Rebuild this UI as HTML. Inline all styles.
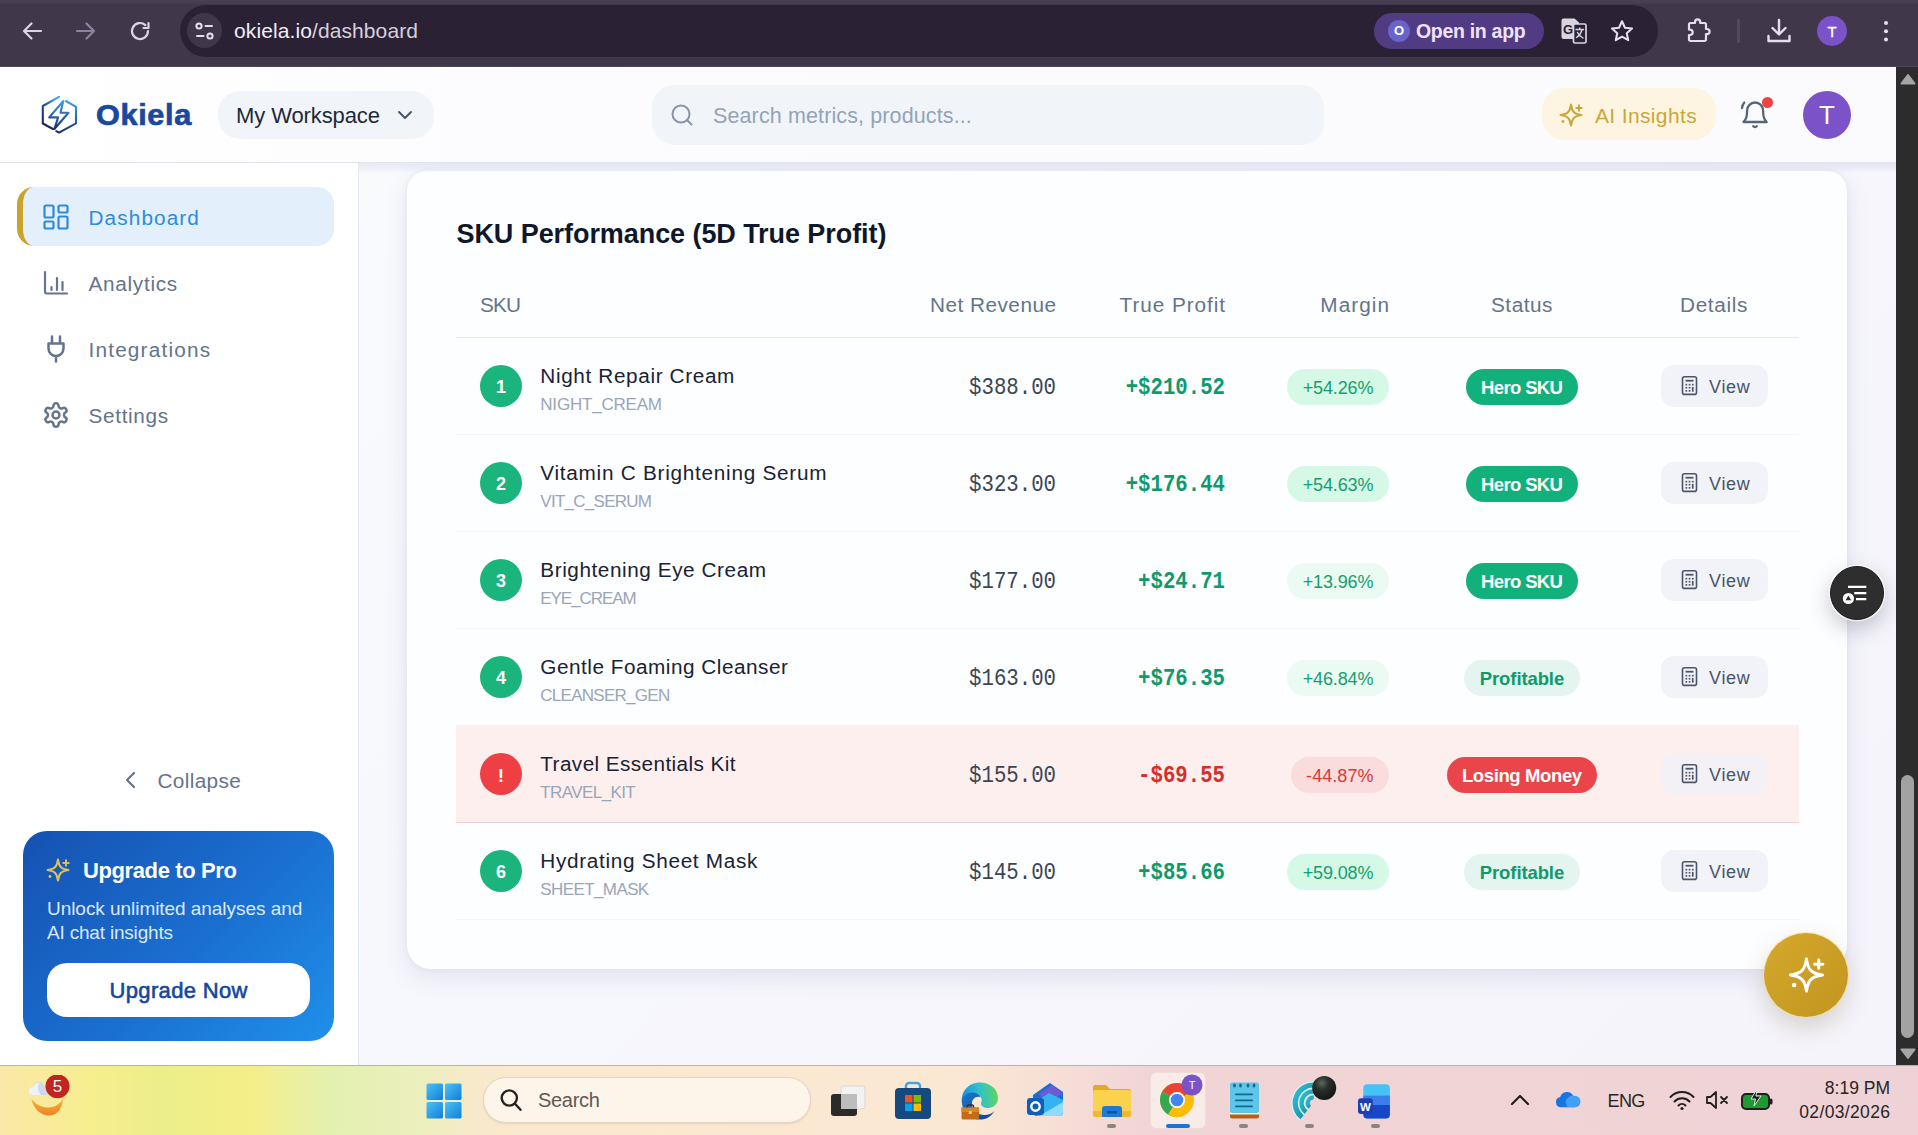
<!DOCTYPE html>
<html>
<head>
<meta charset="utf-8">
<title>Okiela Dashboard</title>
<style>
*{box-sizing:border-box;margin:0;padding:0}
html,body{width:1918px;height:1135px;overflow:hidden;background:#fff;font-family:"Liberation Sans",sans-serif;}
.abs{position:absolute}
#root{position:relative;width:1918px;height:1135px;overflow:hidden;background:#f6f7fc}
/* browser chrome */
#chrome{position:absolute;left:0;top:0;width:1918px;height:67px;background:#41374b;border-bottom:1.500px solid #4c4654}
#urlbar{position:absolute;left:180px;top:5px;width:1478px;height:52px;border-radius:26px;background:#2a2234}
#siteinfo{position:absolute;left:187px;top:13px;width:35px;height:35px;border-radius:50%;background:#40364a}
#urltext{position:absolute;left:234px;top:18px;font-size:21px;line-height:26px;color:#f1edf6;white-space:nowrap;letter-spacing:0.1px}
#urltext span{color:#d6d0de}
#openapp{position:absolute;left:1374px;top:13px;width:170px;height:36px;border-radius:18px;background:#513b82}
#openapp .o{position:absolute;left:14px;top:7px;width:22px;height:22px;border-radius:50%;background:#6a63c9;color:#fff;font-size:13px;font-weight:bold;text-align:center;line-height:22px}
#openapp .t{position:absolute;left:42px;top:5px;font-size:19.500px;line-height:26px;color:#f0e2f9;font-weight:bold;white-space:nowrap;letter-spacing:-0.3px}
#cprofile{position:absolute;left:1817px;top:16px;width:30px;height:30px;border-radius:50%;background:#7b52c7;color:#fff;font-size:15px;text-align:center;line-height:31px;-webkit-text-stroke:0.4px #fff}
/* app header */
#hdr{position:absolute;left:0;top:67px;width:1896px;height:96px;background:linear-gradient(90deg,#ffffff 0%,#fcfcfe 30%,#fbfbfe 100%);border-bottom:1px solid #dfe4ef}
#brand{position:absolute;left:96px;top:97px;font-size:29.500px;line-height:36px;font-weight:bold;color:#1848a0;letter-spacing:0.6px;-webkit-text-stroke:0.7px #1848a0;transform-origin:0 50%;transform:scaleX(1.04)}
#ws{position:absolute;left:218px;top:91px;width:216px;height:48px;border-radius:22px;background:#f1f5f9}
#ws .t{position:absolute;left:18px;top:11px;font-size:22px;line-height:28px;color:#1e293b;white-space:nowrap}
#search{position:absolute;left:652px;top:85px;width:672px;height:60px;border-radius:22px;background:#f1f5f9}
#search .t{position:absolute;left:61px;top:17px;font-size:21.500px;line-height:28px;color:#94a3b8;white-space:nowrap}
#ai{position:absolute;left:1542px;top:88px;width:174px;height:52px;border-radius:22px;background:#fdf5e1}
#ai .t{position:absolute;left:53px;top:14px;font-size:21px;line-height:28px;color:#c8a83a;white-space:nowrap;letter-spacing:0.45px}
#avatar{position:absolute;left:1803px;top:91px;width:48px;height:48px;border-radius:50%;background:#7b52c7;color:#fff;font-size:26px;text-align:center;line-height:48px}
/* scrollbar */
#sb{position:absolute;left:1896px;top:67px;width:22px;height:998px;background:#2c2c2c}
#sb .thumb{position:absolute;left:5px;top:708px;width:13px;height:262.500px;border-radius:6.500px;background:#a2a2a2}
/* sidebar */
#side{position:absolute;left:0;top:163px;width:359px;height:902px;background:#fff;border-right:1px solid #e2e8f0}
.nav{position:absolute;left:88.500px;font-size:20.750px;line-height:28px;color:#64748b;white-space:nowrap}
#active{position:absolute;left:17px;top:187px;width:317px;height:59px;border-radius:17px;background:#e3f0fb;border-left:6px solid #c9a42c}
#upg{position:absolute;left:23px;top:831px;width:311px;height:210px;border-radius:24px;background:linear-gradient(135deg,#1552b2 0%,#1a6fd0 55%,#2090ea 100%)}
#upg .h{position:absolute;left:60px;top:26px;font-size:22px;line-height:28px;font-weight:bold;color:#fff;white-space:nowrap}
#upg .d{position:absolute;left:24px;top:66px;font-size:19px;line-height:24px;color:#dce9fb;white-space:nowrap}
#upg .b{position:absolute;left:24px;top:132px;width:263px;height:54px;border-radius:20px;background:#fff;color:#15489c;font-size:22px;line-height:56px;text-align:center;font-weight:normal;-webkit-text-stroke:0.6px #15489c}
/* main card */
#card{position:absolute;left:407px;top:171px;width:1440px;height:798px;border-radius:20px 20px 24px 24px;background:#fdfeff;box-shadow:0 9px 24px rgba(80,90,150,0.12),0 0 6px rgba(80,90,160,0.07)}
#title{position:absolute;left:456.500px;top:215.500px;font-size:27px;line-height:36px;font-weight:bold;color:#0f172a;white-space:nowrap}
.th{position:absolute;top:291px;font-size:20.750px;line-height:28px;color:#64748b;white-space:nowrap}
.row{position:absolute;left:456px;width:1343px;height:97px;border-bottom:1px solid #f1f5f9}
.row.bad{background:#fdefee;border-bottom:1px solid #f3cfcf}
.num{position:absolute;left:24px;top:27px;width:42px;height:42px;border-radius:50%;background:#1ab47c;color:#fff;font-weight:bold;font-size:18px;line-height:44px;text-align:center;overflow:hidden}
.bad .num{background:#ee4044;line-height:46px;font-size:19px}
.nm{position:absolute;left:84.300px;top:24px;font-size:20.750px;line-height:28px;color:#1a2233;white-space:nowrap}
.cd{position:absolute;left:84.300px;top:55px;font-size:17px;line-height:24px;color:#9aa5b8;white-space:nowrap}
.rev{position:absolute;right:743px;top:36.500px;font-family:"Liberation Mono",monospace;font-size:20.700px;line-height:28px;color:#3a4656;white-space:nowrap;transform:scaleY(1.13);transform-origin:50% 62%}
.pro{position:absolute;right:574px;top:36.500px;font-family:"Liberation Mono",monospace;font-size:20.700px;line-height:28px;color:#0f9a6c;font-weight:bold;white-space:nowrap;transform:scaleY(1.13);transform-origin:50% 62%}
.bad .pro{color:#d92c2c}
.mg{position:absolute;right:410px;top:31px;height:36px;border-radius:18px;background:#d6f8e6;color:#14a06e;font-size:18px;line-height:38px;padding:0 15.500px;white-space:nowrap;overflow:hidden}
.mg.l{background:#ebfbf3}
.bad .mg{background:#fbdcdc;color:#d63a3a}
.st{position:absolute;top:31px;height:36px;border-radius:18px;font-size:18.500px;line-height:38px;overflow:hidden;font-weight:bold;text-align:center;white-space:nowrap}
.st.hero{left:1010px;width:112px;background:#12b07a;color:#fff}
.st.prof{left:1008px;width:116px;background:#e3f5ee;color:#0f9a6c}
.st.lose{left:991px;width:150px;background:#ea454a;color:#fff}
.vw{position:absolute;left:1205px;top:27px;width:107px;height:42px;border-radius:13px;background:#f1f3f9}
.vw .t{position:absolute;left:48px;top:9px;font-size:18px;line-height:26px;color:#475569}
.bad .vw{background:#f4f1f6}
/* taskbar */
#task{position:absolute;left:0;top:1065px;width:1918px;height:70px;border-top:1px solid #b9b3a6;background:linear-gradient(90deg,#f9e8a8 0px,#f6ee8c 100px,#ecee8a 160px,#f5ee88 250px,#e3f0b0 330px,#ecefbe 420px,#f8e9cc 480px,#fbe8d0 700px,#fbe8d4 960px,#f5dcd6 1080px,#f1d5d6 1150px,#efd2d5 1918px)}
.f{display:inline-block;white-space:nowrap;letter-spacing:0}
</style>
</head>
<body>
<div id="root">

<!-- MAIN -->
<div id="mainbg" class="abs" style="left:359px;top:163px;width:1537px;height:902px;background:linear-gradient(135deg,#f8fafc 0%,#f6f6fc 60%,#f5f4fb 100%)"></div>
<div class="abs" style="left:359px;top:163px;width:1537px;height:10px;background:linear-gradient(180deg,rgba(90,100,170,0.11),rgba(90,100,170,0.06) 60%,rgba(90,100,170,0))"></div>
<div id="card"></div>
<div id="title"><span class="f" style="letter-spacing:-0.07px;margin-right:0.07px">SKU Performance (5D True Profit)</span></div>

<!-- TABLE -->
<div id="table">
<div class="th" style="left:480px"><span class="f" style="letter-spacing:-0.84px;margin-right:0.84px">SKU</span></div>
<div class="th" style="right:862px"><span class="f" style="letter-spacing:0.49px;margin-right:-0.49px">Net Revenue</span></div>
<div class="th" style="right:693px"><span class="f" style="letter-spacing:0.93px;margin-right:-0.93px">True Profit</span></div>
<div class="th" style="right:529px"><span class="f" style="letter-spacing:1.05px;margin-right:-1.05px">Margin</span></div>
<div class="th" style="left:1491px"><span class="f" style="letter-spacing:0.51px;margin-right:-0.51px">Status</span></div>
<div class="th" style="left:1680px"><span class="f" style="letter-spacing:0.66px;margin-right:-0.66px">Details</span></div>
<div class="abs" style="left:456px;top:337px;width:1343px;height:1px;background:#e2e8f0"></div>
<div class="row" style="top:338px"><div class="num">1</div><div class="nm"><span class="f" style="letter-spacing:0.63px;margin-right:-0.63px">Night Repair Cream</span></div><div class="cd"><span class="f" style="letter-spacing:-0.21px;margin-right:0.21px">NIGHT_CREAM</span></div><div class="rev">$388.00</div><div class="pro">+$210.52</div><div class="mg"><span class="f" style="letter-spacing:-0.13px;margin-right:0.13px">+54.26%</span></div><div class="st hero"><span class="f" style="letter-spacing:-0.65px;margin-right:0.65px">Hero SKU</span></div><div class="vw"><svg class="abs" style="left:18px;top:10px" width="20" height="22" viewBox="0 0 20 22" fill="none" stroke="#4a5568" stroke-width="1.600" stroke-linejoin="round"><rect x="3.500" y="1.800" width="14" height="17.600" rx="2"/><rect x="6.500" y="4.800" width="8" height="1.800" fill="#4a5568" stroke="none"/><g fill="#4a5568" stroke="none"><rect x="6.500" y="8.800" width="1.700" height="1.700"/><rect x="9.700" y="8.800" width="1.700" height="1.700"/><rect x="12.900" y="8.800" width="1.700" height="1.700"/><rect x="6.500" y="11.900" width="1.700" height="1.700"/><rect x="9.700" y="11.900" width="1.700" height="1.700"/><rect x="12.900" y="11.900" width="1.700" height="4.800"/><rect x="6.500" y="15" width="1.700" height="1.700"/><rect x="9.700" y="15" width="1.700" height="1.700"/></g></svg><div class="t"><span class="f" style="letter-spacing:0.7px;margin-right:-0.7px">View</span></div></div></div>
<div class="row" style="top:435px"><div class="num">2</div><div class="nm"><span class="f" style="letter-spacing:0.73px;margin-right:-0.73px">Vitamin C Brightening Serum</span></div><div class="cd"><span class="f" style="letter-spacing:-0.73px;margin-right:0.73px">VIT_C_SERUM</span></div><div class="rev">$323.00</div><div class="pro">+$176.44</div><div class="mg"><span class="f" style="letter-spacing:-0.13px;margin-right:0.13px">+54.63%</span></div><div class="st hero"><span class="f" style="letter-spacing:-0.65px;margin-right:0.65px">Hero SKU</span></div><div class="vw"><svg class="abs" style="left:18px;top:10px" width="20" height="22" viewBox="0 0 20 22" fill="none" stroke="#4a5568" stroke-width="1.600" stroke-linejoin="round"><rect x="3.500" y="1.800" width="14" height="17.600" rx="2"/><rect x="6.500" y="4.800" width="8" height="1.800" fill="#4a5568" stroke="none"/><g fill="#4a5568" stroke="none"><rect x="6.500" y="8.800" width="1.700" height="1.700"/><rect x="9.700" y="8.800" width="1.700" height="1.700"/><rect x="12.900" y="8.800" width="1.700" height="1.700"/><rect x="6.500" y="11.900" width="1.700" height="1.700"/><rect x="9.700" y="11.900" width="1.700" height="1.700"/><rect x="12.900" y="11.900" width="1.700" height="4.800"/><rect x="6.500" y="15" width="1.700" height="1.700"/><rect x="9.700" y="15" width="1.700" height="1.700"/></g></svg><div class="t"><span class="f" style="letter-spacing:0.7px;margin-right:-0.7px">View</span></div></div></div>
<div class="row" style="top:532px"><div class="num">3</div><div class="nm"><span class="f" style="letter-spacing:0.56px;margin-right:-0.56px">Brightening Eye Cream</span></div><div class="cd"><span class="f" style="letter-spacing:-1.07px;margin-right:1.07px">EYE_CREAM</span></div><div class="rev">$177.00</div><div class="pro">+$24.71</div><div class="mg l"><span class="f" style="letter-spacing:-0.13px;margin-right:0.13px">+13.96%</span></div><div class="st hero"><span class="f" style="letter-spacing:-0.65px;margin-right:0.65px">Hero SKU</span></div><div class="vw"><svg class="abs" style="left:18px;top:10px" width="20" height="22" viewBox="0 0 20 22" fill="none" stroke="#4a5568" stroke-width="1.600" stroke-linejoin="round"><rect x="3.500" y="1.800" width="14" height="17.600" rx="2"/><rect x="6.500" y="4.800" width="8" height="1.800" fill="#4a5568" stroke="none"/><g fill="#4a5568" stroke="none"><rect x="6.500" y="8.800" width="1.700" height="1.700"/><rect x="9.700" y="8.800" width="1.700" height="1.700"/><rect x="12.900" y="8.800" width="1.700" height="1.700"/><rect x="6.500" y="11.900" width="1.700" height="1.700"/><rect x="9.700" y="11.900" width="1.700" height="1.700"/><rect x="12.900" y="11.900" width="1.700" height="4.800"/><rect x="6.500" y="15" width="1.700" height="1.700"/><rect x="9.700" y="15" width="1.700" height="1.700"/></g></svg><div class="t"><span class="f" style="letter-spacing:0.7px;margin-right:-0.7px">View</span></div></div></div>
<div class="row" style="top:629px"><div class="num">4</div><div class="nm"><span class="f" style="letter-spacing:0.51px;margin-right:-0.51px">Gentle Foaming Cleanser</span></div><div class="cd"><span class="f" style="letter-spacing:-0.73px;margin-right:0.73px">CLEANSER_GEN</span></div><div class="rev">$163.00</div><div class="pro">+$76.35</div><div class="mg l"><span class="f" style="letter-spacing:-0.13px;margin-right:0.13px">+46.84%</span></div><div class="st prof"><span class="f" style="letter-spacing:-0.1px;margin-right:0.1px">Profitable</span></div><div class="vw"><svg class="abs" style="left:18px;top:10px" width="20" height="22" viewBox="0 0 20 22" fill="none" stroke="#4a5568" stroke-width="1.600" stroke-linejoin="round"><rect x="3.500" y="1.800" width="14" height="17.600" rx="2"/><rect x="6.500" y="4.800" width="8" height="1.800" fill="#4a5568" stroke="none"/><g fill="#4a5568" stroke="none"><rect x="6.500" y="8.800" width="1.700" height="1.700"/><rect x="9.700" y="8.800" width="1.700" height="1.700"/><rect x="12.900" y="8.800" width="1.700" height="1.700"/><rect x="6.500" y="11.900" width="1.700" height="1.700"/><rect x="9.700" y="11.900" width="1.700" height="1.700"/><rect x="12.900" y="11.900" width="1.700" height="4.800"/><rect x="6.500" y="15" width="1.700" height="1.700"/><rect x="9.700" y="15" width="1.700" height="1.700"/></g></svg><div class="t"><span class="f" style="letter-spacing:0.7px;margin-right:-0.7px">View</span></div></div></div>
<div class="row bad" style="top:726px"><div class="num">!</div><div class="nm"><span class="f" style="letter-spacing:0.4px;margin-right:-0.4px">Travel Essentials Kit</span></div><div class="cd"><span class="f" style="letter-spacing:-0.59px;margin-right:0.59px">TRAVEL_KIT</span></div><div class="rev">$155.00</div><div class="pro">-$69.55</div><div class="mg"><span class="f" style="letter-spacing:0.06px;margin-right:-0.06px">-44.87%</span></div><div class="st lose"><span class="f" style="letter-spacing:-0.38px;margin-right:0.38px">Losing Money</span></div><div class="vw"><svg class="abs" style="left:18px;top:10px" width="20" height="22" viewBox="0 0 20 22" fill="none" stroke="#4a5568" stroke-width="1.600" stroke-linejoin="round"><rect x="3.500" y="1.800" width="14" height="17.600" rx="2"/><rect x="6.500" y="4.800" width="8" height="1.800" fill="#4a5568" stroke="none"/><g fill="#4a5568" stroke="none"><rect x="6.500" y="8.800" width="1.700" height="1.700"/><rect x="9.700" y="8.800" width="1.700" height="1.700"/><rect x="12.900" y="8.800" width="1.700" height="1.700"/><rect x="6.500" y="11.900" width="1.700" height="1.700"/><rect x="9.700" y="11.900" width="1.700" height="1.700"/><rect x="12.900" y="11.900" width="1.700" height="4.800"/><rect x="6.500" y="15" width="1.700" height="1.700"/><rect x="9.700" y="15" width="1.700" height="1.700"/></g></svg><div class="t"><span class="f" style="letter-spacing:0.7px;margin-right:-0.7px">View</span></div></div></div>
<div class="row" style="top:823px"><div class="num">6</div><div class="nm"><span class="f" style="letter-spacing:0.68px;margin-right:-0.68px">Hydrating Sheet Mask</span></div><div class="cd"><span class="f" style="letter-spacing:-0.6px;margin-right:0.6px">SHEET_MASK</span></div><div class="rev">$145.00</div><div class="pro">+$85.66</div><div class="mg"><span class="f" style="letter-spacing:-0.13px;margin-right:0.13px">+59.08%</span></div><div class="st prof"><span class="f" style="letter-spacing:-0.1px;margin-right:0.1px">Profitable</span></div><div class="vw"><svg class="abs" style="left:18px;top:10px" width="20" height="22" viewBox="0 0 20 22" fill="none" stroke="#4a5568" stroke-width="1.600" stroke-linejoin="round"><rect x="3.500" y="1.800" width="14" height="17.600" rx="2"/><rect x="6.500" y="4.800" width="8" height="1.800" fill="#4a5568" stroke="none"/><g fill="#4a5568" stroke="none"><rect x="6.500" y="8.800" width="1.700" height="1.700"/><rect x="9.700" y="8.800" width="1.700" height="1.700"/><rect x="12.900" y="8.800" width="1.700" height="1.700"/><rect x="6.500" y="11.900" width="1.700" height="1.700"/><rect x="9.700" y="11.900" width="1.700" height="1.700"/><rect x="12.900" y="11.900" width="1.700" height="4.800"/><rect x="6.500" y="15" width="1.700" height="1.700"/><rect x="9.700" y="15" width="1.700" height="1.700"/></g></svg><div class="t"><span class="f" style="letter-spacing:0.7px;margin-right:-0.7px">View</span></div></div></div>
</div>

<!-- SIDEBAR -->
<div id="side"></div>
<div id="active"></div>
<!-- dashboard icon -->
<svg class="abs" style="left:42px;top:203px" width="28" height="28" viewBox="0 0 28 28" fill="none" stroke="#2f8bd8" stroke-width="2.200" stroke-linejoin="round">
 <rect x="2.500" y="2.500" width="9" height="12" rx="1.500"/><rect x="16.500" y="2.500" width="9" height="7" rx="1.500"/>
 <rect x="2.500" y="18.500" width="9" height="7" rx="1.500"/><rect x="16.500" y="13.500" width="9" height="12" rx="1.500"/>
</svg>
<div class="nav" style="top:204px;color:#2f8bd8"><span class="f" style="letter-spacing:1.11px;margin-right:-1.11px">Dashboard</span></div>
<!-- analytics icon -->
<svg class="abs" style="left:42px;top:269px" width="28" height="28" viewBox="0 0 28 28" fill="none" stroke="#64748b" stroke-width="2.200" stroke-linecap="round" stroke-linejoin="round">
 <path d="M3 3v19.500a2 2 0 0 0 2 2h20"/><path d="M9.500 21v-3M15 21V9M20.500 21v-8"/>
</svg>
<div class="nav" style="top:270px"><span class="f" style="letter-spacing:0.71px;margin-right:-0.71px">Analytics</span></div>
<!-- plug icon -->
<svg class="abs" style="left:42px;top:334px" width="28" height="30" viewBox="0 0 28 30" fill="none" stroke="#64748b" stroke-width="2.500" stroke-linecap="round" stroke-linejoin="round">
 <path d="M10 2.500v7M18 2.500v7M6.500 9.500h15v5a7.500 7.500 0 0 1-15 0zM14 22v5.500"/>
</svg>
<div class="nav" style="top:336px"><span class="f" style="letter-spacing:1.19px;margin-right:-1.19px">Integrations</span></div>
<!-- gear icon -->
<svg class="abs" style="left:42px;top:401px" width="28" height="28" viewBox="0 0 24 24" fill="none" stroke="#64748b" stroke-width="2.100" stroke-linecap="round" stroke-linejoin="round">
 <path d="M12.220 2h-.44a2 2 0 0 0-2 2v.18a2 2 0 0 1-1 1.730l-.43.250a2 2 0 0 1-2 0l-.15-.08a2 2 0 0 0-2.730.730l-.22.380a2 2 0 0 0 .73 2.730l.15.100a2 2 0 0 1 1 1.720v.510a2 2 0 0 1-1 1.740l-.15.090a2 2 0 0 0-.73 2.730l.22.380a2 2 0 0 0 2.730.730l.15-.08a2 2 0 0 1 2 0l.43.250a2 2 0 0 1 1 1.730V20a2 2 0 0 0 2 2h.44a2 2 0 0 0 2-2v-.18a2 2 0 0 1 1-1.730l.43-.25a2 2 0 0 1 2 0l.15.080a2 2 0 0 0 2.730-.73l.22-.39a2 2 0 0 0-.73-2.730l-.15-.08a2 2 0 0 1-1-1.740v-.5a2 2 0 0 1 1-1.740l.15-.09a2 2 0 0 0 .73-2.730l-.22-.38a2 2 0 0 0-2.730-.73l-.15.080a2 2 0 0 1-2 0l-.43-.25a2 2 0 0 1-1-1.730V4a2 2 0 0 0-2-2z"/>
 <circle cx="12" cy="12" r="3"/>
</svg>
<div class="nav" style="top:402px"><span class="f" style="letter-spacing:0.67px;margin-right:-0.67px">Settings</span></div>
<!-- collapse -->
<svg class="abs" style="left:121px;top:769px" width="20" height="22" viewBox="0 0 20 22" fill="none" stroke="#64748b" stroke-width="2.200" stroke-linecap="round" stroke-linejoin="round"><path d="M13 4l-7 7 7 7"/></svg>
<div class="nav" style="left:157.500px;top:767px"><span class="f" style="letter-spacing:0.36px;margin-right:-0.36px">Collapse</span></div>
<!-- upgrade -->
<div id="upg">
 <svg class="abs" style="left:23px;top:26px" width="26" height="26" viewBox="0 0 26 26" fill="none" stroke="#dcc05c" stroke-width="2" stroke-linecap="round" stroke-linejoin="round">
  <path d="M12 2.500c1 7 3 9.500 10.500 10.500-7.500 1-9.500 3.500-10.500 10.500-1-7-3-9.500-10.500-10.500 7.500-1 9.500-3.500 10.500-10.500z"/>
  <path d="M20 3.300v5.400M17.300 6h5.400"/><circle cx="4" cy="19.500" r="1.400" fill="#dcc05c" stroke="none"/>
 </svg>
 <div class="h"><span class="f" style="letter-spacing:-0.39px;margin-right:0.39px">Upgrade to Pro</span></div>
 <div class="d"><span class="f" style="letter-spacing:-0.05px;margin-right:0.05px">Unlock unlimited analyses and</span><br><span class="f" style="letter-spacing:-0.19px;margin-right:0.19px">AI chat insights</span></div>
 <div class="b"><span class="f" style="letter-spacing:0.34px;margin-right:-0.34px">Upgrade Now</span></div>
</div>

<!-- HEADER -->
<div id="hdr"></div>
<!-- logo -->
<svg class="abs" style="left:38px;top:93px" width="42" height="44" viewBox="0 0 42 44" fill="none" stroke-linejoin="round" stroke-linecap="round">
 <defs><linearGradient id="lg1" x1="0.600" y1="0" x2="0.300" y2="1"><stop offset="0" stop-color="#3fa6f2"/><stop offset=".35" stop-color="#1f4f9c"/><stop offset="1" stop-color="#1a2458"/></linearGradient>
 <linearGradient id="lg2" x1="0.500" y1="0" x2="0.400" y2="1"><stop offset="0" stop-color="#3b9cea"/><stop offset="1" stop-color="#1d2f6e"/></linearGradient></defs>
 <path d="M21 3.800L4.800 13v17.500L15 36" stroke="url(#lg1)" stroke-width="2.100"/>
 <path d="M28 8l10 5.800v16.500L21 39.600l-2.700-1.500" stroke="url(#lg2)" stroke-width="2.100"/>
 <path d="M25.300 8L11.200 24.400h8.900L16.400 36 30.500 19.700h-8z" stroke="url(#lg2)" stroke-width="2.100"/>
</svg>
<div id="brand">Okiela</div>
<div id="ws"><div class="t"><span class="f" style="letter-spacing:-0.1px;margin-right:0.1px">My Workspace</span></div>
 <svg class="abs" style="left:177px;top:15px" width="20" height="18" viewBox="0 0 20 18" fill="none" stroke="#475569" stroke-width="2" stroke-linecap="round" stroke-linejoin="round"><path d="M4 6l6 6 6-6"/></svg>
</div>
<div id="search">
 <svg class="abs" style="left:17px;top:17px" width="26" height="26" viewBox="0 0 26 26" fill="none" stroke="#8a94a6" stroke-width="2" stroke-linecap="round"><circle cx="12" cy="12" r="8.500"/><path d="M18.500 18.500l4 4"/></svg>
 <div class="t"><span class="f" style="letter-spacing:0.12px;margin-right:-0.12px">Search metrics, products...</span></div>
</div>
<div id="ai">
 <svg class="abs" style="left:17px;top:14px" width="26" height="26" viewBox="0 0 26 26" fill="none" stroke="#c8a83a" stroke-width="2" stroke-linecap="round" stroke-linejoin="round">
  <path d="M12 2.500c1 7 3 9.500 10.500 10.500-7.500 1-9.500 3.500-10.500 10.500-1-7-3-9.500-10.500-10.500 7.500-1 9.500-3.500 10.500-10.500z"/>
  <path d="M20 3.300v5.400M17.300 6h5.400"/><circle cx="4" cy="19.500" r="1.400" fill="#c8a83a" stroke="none"/>
 </svg>
 <div class="t"><span class="f" style="letter-spacing:0.36px;margin-right:-0.36px">AI Insights</span></div>
</div>
<!-- bell -->
<svg class="abs" style="left:1736px;top:96px" width="38" height="38" viewBox="0 0 38 38" fill="none" stroke="#56657a" stroke-width="2.300" stroke-linecap="round" stroke-linejoin="round">
 <path d="M7.500 26c2.400-2.600 3.600-4.500 3.600-11.500a8 8 0 0 1 16 0c0 7 1.200 8.900 3.600 11.500z"/>
 <path d="M17.200 30.200a2.200 2.200 0 0 0 3.600 0"/>
 <path d="M8.300 6.500C6.800 8.200 6.200 10 6 12"/>
</svg>
<div class="abs" style="left:1762px;top:97px;width:11px;height:11px;border-radius:50%;background:#ef4146"></div>
<div id="avatar">T</div>

<!-- floating buttons -->
<div class="abs" style="left:1830px;top:566px;width:54px;height:54px;border-radius:50%;background:#2e2e2e;border:1.500px solid #1c1c1c;box-shadow:0 0 0 1.500px rgba(255,255,255,0.65),0 8px 22px rgba(40,40,60,0.28)"></div>
<svg class="abs" style="left:1840px;top:578px" width="34" height="30" viewBox="0 0 34 30" fill="none" stroke="#fff" stroke-width="2.200" stroke-linecap="butt">
 <path d="M8 8.900h18.300M14.200 15.100h12.100M16 21.100h10.300"/><circle cx="8.400" cy="20.500" r="5.600" fill="#fff" stroke="none"/><path d="M8.400 17.600l2.800 4.600h-5.600z" fill="#2e2e2e" stroke="none"/>
</svg>
<div class="abs" style="left:1764px;top:933px;width:84px;height:84px;border-radius:50%;background:linear-gradient(135deg,#d4a92c 0%,#cb9f25 50%,#c2951f 100%);box-shadow:0 0 0 1px rgba(245,225,150,0.7),0 10px 24px rgba(120,100,60,0.25)"></div>
<svg class="abs" style="left:1787.500px;top:955px" width="40" height="40" viewBox="0 0 26 26" fill="none" stroke="#fff" stroke-width="1.900" stroke-linecap="round" stroke-linejoin="round">
  <path d="M12 2.500c1 7 3 9.500 10.500 10.500-7.500 1-9.500 3.500-10.500 10.500-1-7-3-9.500-10.500-10.500 7.500-1 9.500-3.500 10.500-10.500z"/>
  <path d="M20 3.300v5.400M17.300 6h5.400"/><circle cx="4" cy="19.500" r="1.500" fill="#fff" stroke="none"/>
</svg>
<!-- SCROLLBAR -->
<div id="sb"><div class="thumb"></div>
<svg class="abs" style="left:2.500px;top:5px" width="18" height="14" viewBox="0 0 18 14"><path d="M9 3L15.500 11.500H2.500z" fill="#a6a6a6" stroke="#a6a6a6" stroke-width="2" stroke-linejoin="round"/></svg>
<svg class="abs" style="left:2.500px;top:980px" width="18" height="14" viewBox="0 0 18 14"><path d="M9 11L15.500 2.500H2.500z" fill="#a6a6a6" stroke="#a6a6a6" stroke-width="2" stroke-linejoin="round"/></svg>
</div>

<!-- CHROME -->
<div id="chrome">
<div class="abs" style="left:0;top:0;width:1918px;height:4px;background:linear-gradient(180deg,#4b4157,#453b50)"></div>
<svg class="abs" style="left:0;top:0" width="180" height="67" viewBox="0 0 180 67" fill="none" stroke-linecap="round" stroke-linejoin="round">
 <path d="M41 31H24M31.5 23.5L24 31l7.500 7.500" stroke="#ddd3e8" stroke-width="2.200"/>
 <path d="M77 31h17M86.500 23.500L94 31l-7.500 7.500" stroke="#8e829c" stroke-width="2.200"/>
 <path d="M148 31a8 8 0 1 1-2.600-5.900" stroke="#ddd3e8" stroke-width="2.200"/>
 <path d="M148.500 23v5h-5" stroke="#ddd3e8" stroke-width="2.200"/>
</svg>
<div id="urlbar"></div>
<div id="siteinfo"></div>
<svg class="abs" style="left:187px;top:13px" width="35" height="35" viewBox="0 0 35 35" fill="none" stroke="#e6def0" stroke-width="2" stroke-linecap="round">
 <circle cx="12" cy="13" r="2.600"/><path d="M18.500 13h6.500"/>
 <circle cx="23" cy="23" r="2.600"/><path d="M10 23h6.500"/>
</svg>
<div id="urltext">okiela.io<span>/dashboard</span></div>
<div id="openapp"><div class="o">O</div><div class="t">Open in app</div></div>
<!-- translate -->
<svg class="abs" style="left:1559px;top:16px" width="30" height="30" viewBox="0 0 30 30">
 <path d="M4.500 2.500h11l4.500 4v16.500h-15.500a2 2 0 0 1-2-2v-16.500a2 2 0 0 1 2-2z" fill="#d9d3e2"/>
 <rect x="14.500" y="8" width="12.500" height="19" rx="1.500" fill="#2a2234" stroke="#d9d3e2" stroke-width="1.700"/>
 <text x="4" y="17.500" font-family="Liberation Sans" font-weight="bold" font-size="13" fill="#2a2234">G</text>
 <path d="M17 13.500h7.500M20.700 12v1.500M23 13.500c-.8 3.500-2.500 6-5.500 8M18.500 16.500c1 2 3 4 5.500 5.500" stroke="#d9d3e2" stroke-width="1.400" fill="none" stroke-linecap="round"/>
</svg>
<!-- star -->
<svg class="abs" style="left:1609px;top:18px" width="26" height="26" viewBox="0 0 28 28" fill="none" stroke="#e6def0" stroke-width="2.200" stroke-linejoin="round">
 <path d="M14 3.500l3.200 7 7.600.800-5.700 5.100 1.600 7.500L14 20.100 7.300 23.900l1.600-7.500L3.200 11.300l7.600-.8z"/>
</svg>
<!-- puzzle -->
<svg class="abs" style="left:1684px;top:16px" width="30" height="30" viewBox="0 0 30 30" fill="none" stroke="#e6def0" stroke-width="2.200" stroke-linejoin="round">
 <path d="M5 8.500a1.500 1.500 0 0 1 1.500-1.500H11V6a2.600 2.600 0 0 1 5.200 0v1h4.300A1.500 1.500 0 0 1 22 8.500V13h1a2.600 2.600 0 0 1 0 5.200h-1v5.300a1.500 1.500 0 0 1-1.500 1.500H6.500A1.500 1.500 0 0 1 5 23.500V19h1a2.700 2.700 0 0 0 0-5.400H5z"/>
</svg>
<div class="abs" style="left:1737px;top:19px;width:2.500px;height:24px;background:#53485f;border-radius:1px"></div>
<!-- download -->
<svg class="abs" style="left:1764px;top:16px" width="30" height="30" viewBox="0 0 30 30" fill="none" stroke="#e6def0" stroke-width="2.400" stroke-linecap="round" stroke-linejoin="round">
 <path d="M15 4v14M8.500 12l6.500 6.500 6.500-6.500M4.500 20v5h21v-5"/>
</svg>
<div id="cprofile">T</div>
<div class="abs" style="left:1883.700px;top:20.700px;width:4.600px;height:4.600px;border-radius:50%;background:#e6def0;box-shadow:0 8.200px 0 #e6def0,0 16.400px 0 #e6def0"></div>
</div>

<!-- TASKBAR -->
<div id="task">
<!-- weather -->
<svg class="abs" style="left:24px;top:9px" width="50" height="46" viewBox="0 0 50 46">
 <defs><linearGradient id="mg" x1="0" y1="0" x2="0" y2="1"><stop offset="0" stop-color="#f7b640"/><stop offset="1" stop-color="#ee8220"/></linearGradient></defs>
 <path transform="translate(23.250 32.500) scale(1.04 1.180) translate(-23.250 -31)" d="M8 23.500C10 33 20 40.500 30 37c5-2 8-7 8.500-14-2.500 5-8.500 8.500-15.500 8C16 30.500 11 27 8 23.500z" fill="url(#mg)"/>
 <path d="M8.500 20a4 4 0 0 1 .5-8 6 6 0 0 1 11.500-1 4.500 4.500 0 0 1 1.500 9z" fill="#cfd9ec"/>
 <path d="M8.500 20a4 4 0 0 1 .5-8 6.500 6.500 0 0 1 6.500-4c-2.500 3-2 8 1.500 12z" fill="#eef2fa"/>
 <circle cx="33.500" cy="11.300" r="12" fill="#c42420"/>
 <text x="33.500" y="17.300" font-family="Liberation Sans" font-size="17" fill="#fff" text-anchor="middle">5</text>
</svg>
<!-- windows logo -->
<svg class="abs" style="left:426px;top:17px" width="36" height="36" viewBox="0 0 36 36">
 <defs><linearGradient id="wg" x1="0" y1="0" x2="1" y2="1"><stop offset="0" stop-color="#4cc2f5"/><stop offset="1" stop-color="#0f7fd6"/></linearGradient></defs>
 <rect x="0.500" y="0.500" width="16.500" height="16.500" rx="1.500" fill="url(#wg)"/><rect x="19" y="0.500" width="16.500" height="16.500" rx="1.500" fill="url(#wg)"/>
 <rect x="0.500" y="19" width="16.500" height="16.500" rx="1.500" fill="url(#wg)"/><rect x="19" y="19" width="16.500" height="16.500" rx="1.500" fill="url(#wg)"/>
</svg>
<!-- search -->
<div class="abs" style="left:483px;top:11px;width:328px;height:46px;border-radius:23px;background:#fdf5e9;border:1px solid #e6d5be;box-shadow:0 1px 2px rgba(120,90,50,0.15)"></div>
<svg class="abs" style="left:497px;top:20px" width="28" height="28" viewBox="0 0 28 28" fill="none" stroke="#262320" stroke-width="2.400" stroke-linecap="round"><circle cx="12.300" cy="12" r="7.600"/><path d="M18 17.800l5.500 6"/></svg>
<div class="abs" style="left:538px;top:21px;font-size:20px;line-height:26px;color:#5e5a56;letter-spacing:-0.3px">Search</div>
<!-- task view -->
<svg class="abs" style="left:828px;top:17px" width="40" height="38" viewBox="0 0 40 38">
 <rect x="13" y="3" width="24" height="23" rx="3" fill="#f2f2f2" stroke="#d8d8d8"/>
 <rect x="3" y="11" width="26" height="22" rx="3" fill="#2b2b2b"/>
 <rect x="13" y="11" width="16" height="15" fill="#bdbdbd"/>
</svg>
<!-- store -->
<svg class="abs" style="left:893px;top:14px" width="40" height="42" viewBox="0 0 40 42">
 <path d="M13 9V6a3 3 0 0 1 3-3h8a3 3 0 0 1 3 3v3" fill="none" stroke="#4aa0e0" stroke-width="2.500"/>
 <rect x="2" y="8" width="36" height="31" rx="4" fill="#16497f"/>
 <rect x="12" y="15" width="7.500" height="7.500" fill="#f25022"/><rect x="20.500" y="15" width="7.500" height="7.500" fill="#7fba00"/>
 <rect x="12" y="23.500" width="7.500" height="7.500" fill="#00a4ef"/><rect x="20.500" y="23.500" width="7.500" height="7.500" fill="#ffb900"/>
</svg>
<!-- edge -->
<svg class="abs" style="left:960px;top:15px" width="40" height="40" viewBox="0 0 40 40">
 <defs><linearGradient id="eg" x1="0" y1="0.300" x2="1" y2="0.200"><stop offset="0" stop-color="#1f8fdc"/><stop offset=".45" stop-color="#2cc0cf"/><stop offset="1" stop-color="#63d65a"/></linearGradient>
 <linearGradient id="eg2" x1="0" y1="0" x2="1" y2="1"><stop offset="0" stop-color="#1a78d0"/><stop offset="1" stop-color="#123f96"/></linearGradient></defs>
 <path d="M1.800 21C1 10 9 1.500 20 1.500c10.500 0 18 7 18 15.500 0 6-4.500 10-10 10-4.500 0-7-2.200-7-4.500 0-1.200.8-2 .8-3.500 0-2.600-3-5-7-5-6.500 0-11 4-13 7z" fill="url(#eg)"/>
 <path d="M1.800 21c.2-5 4.200-9.500 10.200-9.500 4 0 7.200 2 8.200 4.500-5-1-8.700 2.500-8.200 7.500.6 6 6 10.500 12.500 10.500 4 0 7.500-1.500 10-4C31 36 26 38.500 20 38.500 10 38.500 2.200 31 1.800 21z" fill="url(#eg2)"/>
 <path d="M1.500 26.500h17.500v10.500a1.500 1.500 0 0 1-1.500 1.500h-14.500a1.500 1.500 0 0 1-1.500-1.500z" fill="#c06a1c"/>
 <path d="M1.500 26.500h17.500v4.500h-17.500z" fill="#d88428"/>
 <rect x="8.800" y="30" width="3" height="3" rx=".8" fill="#f6d06a"/>
 <path d="M7 26.500v-1.200a1.300 1.300 0 0 1 1.300-1.300h4a1.300 1.300 0 0 1 1.300 1.300v1.200" fill="none" stroke="#4a2a10" stroke-width="1.300"/>
</svg>
<!-- outlook -->
<svg class="abs" style="left:1025px;top:14px" width="42" height="42" viewBox="0 0 42 42">
 <path d="M8 15L25 3l13 9v20a4 4 0 0 1-4 4H12a4 4 0 0 1-4-4z" fill="#1a6fd0"/>
 <path d="M14 14L27 5l11 8-14 10z" fill="#6c5ad6"/>
 <path d="M10 22l14-9 14 7v12a4 4 0 0 1-4 4H12z" fill="#35b3f0"/>
 <path d="M14 36l24-14v10a4 4 0 0 1-4 4z" fill="#8edbfa"/>
 <rect x="2" y="18" width="17" height="17" rx="3" fill="#0f5fb8"/>
 <circle cx="10.500" cy="26.500" r="4.200" fill="none" stroke="#fff" stroke-width="2.400"/>
</svg>
<!-- explorer -->
<svg class="abs" style="left:1090px;top:15px" width="44" height="40" viewBox="0 0 44 40">
 <path d="M3 6a2 2 0 0 1 2-2h11l4 4h19a2 2 0 0 1 2 2v4H3z" fill="#e5a823"/>
 <rect x="3" y="9" width="38" height="27" rx="2" fill="#fbd24e"/>
 <path d="M3 30h38v4a2 2 0 0 1-2 2H5a2 2 0 0 1-2-2z" fill="#f0b830"/>
 <path d="M12 36v-8a3 3 0 0 1 3-3h14a3 3 0 0 1 3 3v8z" fill="#1f7ad6"/><rect x="17" y="30" width="10" height="2.500" rx="1.200" fill="#0d4f9a"/>
</svg>
<div class="abs" style="left:1107px;top:58px;width:9px;height:4px;border-radius:2px;background:#8b8580"></div>
<!-- chrome active -->
<div class="abs" style="left:1150px;top:6px;width:56px;height:57px;border-radius:6px;background:#f8ebe8;border:1px solid #eedcd8"></div>
<svg class="abs" style="left:1156px;top:8px" width="50" height="46" viewBox="0 0 50 46">
 <circle cx="21" cy="26" r="17" fill="#fbbc05"/>
 <path d="M21 26L6.300 17.500A17 17 0 0 1 35.700 17.500z" fill="#ea4335"/>
 <path d="M21 26L6.300 17.500A17 17 0 0 0 21 43z" fill="#34a853"/>
 <path d="M21 26l8.500 14.700A17 17 0 0 1 12 40.500" fill="#fbbc05"/>
 <circle cx="21" cy="26" r="8" fill="#fff"/><circle cx="21" cy="26" r="6.300" fill="#4285f4"/>
 <circle cx="36" cy="11" r="10.500" fill="#7b52c7"/>
 <text x="36" y="15" font-family="Liberation Sans" font-size="11" fill="#fff" text-anchor="middle">T</text>
</svg>
<div class="abs" style="left:1166px;top:58px;width:24px;height:4px;border-radius:2px;background:#1a73d8"></div>
<!-- notepad -->
<svg class="abs" style="left:1227px;top:14px" width="34" height="42" viewBox="0 0 34 42">
 <path d="M3 33.500h29v3a2 2 0 0 1-2 2H5a2 2 0 0 1-2-2z" fill="#b5601a"/>
 <rect x="3" y="31.500" width="29" height="3" fill="#fbefd0"/>
 <rect x="3" y="2.500" width="29" height="30.500" rx="2.500" fill="#5cc5e8"/>
 <g fill="#0f6a96"><ellipse cx="7.500" cy="5.500" rx="1.400" ry="2"/><ellipse cx="13.500" cy="5.500" rx="1.400" ry="2"/><ellipse cx="21" cy="5.500" rx="1.400" ry="2"/><ellipse cx="27" cy="5.500" rx="1.400" ry="2"/>
 <rect x="8" y="13.500" width="18" height="1.800" rx=".9"/><rect x="8" y="19.500" width="18" height="1.800" rx=".9"/><rect x="8" y="25.500" width="18" height="1.800" rx=".9"/></g>
</svg>
<div class="abs" style="left:1239px;top:58px;width:9px;height:4px;border-radius:2px;background:#8b8580"></div>
<!-- wifi-ball app -->
<svg class="abs" style="left:1288px;top:8px" width="52" height="50" viewBox="0 0 52 50" fill="none">
 <defs><linearGradient id="wbg" x1="0" y1="0" x2="1" y2="1"><stop offset="0" stop-color="#2fc0d4"/><stop offset="1" stop-color="#14849a"/></linearGradient>
 <radialGradient id="ball" cx=".4" cy=".3" r=".7"><stop offset="0" stop-color="#5a6a60"/><stop offset=".4" stop-color="#2a302b"/><stop offset="1" stop-color="#141714"/></radialGradient></defs>
 <path d="M26.800 11.100A18 18 0 0 0 14.100 43.200" stroke="#e2f3f5" stroke-width="7.500"/>
 <path d="M26.200 17.500A11.500 11.500 0 0 0 18.100 38.100" stroke="#e2f3f5" stroke-width="7"/>
 <path d="M26.800 11.100A18 18 0 0 0 14.100 43.200" stroke="url(#wbg)" stroke-width="5.200"/>
 <path d="M26.200 17.500A11.500 11.500 0 0 0 18.100 38.100" stroke="url(#wbg)" stroke-width="4.600"/>
 <path d="M25.700 23.500A5.500 5.500 0 0 0 21.800 33.300" stroke="url(#wbg)" stroke-width="4"/>
 <circle cx="36.200" cy="13.900" r="12" fill="url(#ball)"/>
</svg>
<div class="abs" style="left:1305px;top:58px;width:9px;height:4px;border-radius:2px;background:#8b8580"></div>
<!-- word -->
<svg class="abs" style="left:1356px;top:16px" width="36" height="38" viewBox="0 0 36 38">
 <rect x="7.300" y="2.200" width="26.600" height="34.400" rx="4" fill="#45c3f5"/>
 <rect x="7.300" y="13.600" width="26.600" height="10" fill="#3d7eea"/>
 <path d="M7.300 23h26.600v9.600a4 4 0 0 1-4 4H11.300a4 4 0 0 1-4-4z" fill="#1846c8"/>
 <rect x="2" y="16.300" width="14.800" height="15.700" rx="3" fill="#1a3fb0"/>
 <text x="9.400" y="28.600" font-family="Liberation Sans" font-weight="bold" font-size="11.500" fill="#fff" text-anchor="middle">W</text>
</svg>
<div class="abs" style="left:1371px;top:58px;width:9px;height:4px;border-radius:2px;background:#8b8580"></div>
<!-- tray -->
<svg class="abs" style="left:1509px;top:27px" width="22" height="14" viewBox="0 0 22 14" fill="none" stroke="#1f1f1f" stroke-width="2.200" stroke-linecap="round" stroke-linejoin="round"><path d="M3 11l8-8 8 8"/></svg>
<svg class="abs" style="left:1555px;top:24px" width="26" height="19" viewBox="0 0 30 22">
 <path d="M7 20a6 6 0 0 1-1-11.900A8 8 0 0 1 21 7a6.500 6.500 0 0 1 2 13z" fill="#1a74e0"/>
 <path d="M14 20h9a6.500 6.500 0 0 0 1.500-12.800A9 9 0 0 0 12 14z" fill="#3fa0f5"/>
</svg>
<div class="abs" style="left:1607.500px;top:23px;font-size:18px;line-height:25px;color:#262626;letter-spacing:-0.6px">ENG</div>
<svg class="abs" style="left:1668px;top:22px" width="28" height="24" viewBox="0 0 28 24" fill="none" stroke="#1f1f1f" stroke-width="2" stroke-linecap="round">
 <path d="M2.500 9a16 16 0 0 1 23 0M6.500 13.500a10.500 10.500 0 0 1 15 0M10.500 17.500a5 5 0 0 1 7 0"/><circle cx="14" cy="20.500" r="1.600" fill="#1f1f1f" stroke="none"/>
</svg>
<svg class="abs" style="left:1704px;top:23px" width="28" height="22" viewBox="0 0 28 22" fill="none" stroke="#1f1f1f" stroke-width="1.800" stroke-linecap="round" stroke-linejoin="round">
 <path d="M3 8h3.500L12 3v16l-5.500-5H3z"/><path d="M17 8l6 6M23 8l-6 6"/>
</svg>
<svg class="abs" style="left:1740px;top:22px" width="34" height="24" viewBox="0 0 34 24">
 <rect x="2" y="6" width="27" height="15" rx="4" fill="#1f9a32" stroke="#1f1f1f" stroke-width="2"/>
 <rect x="29.500" y="10.500" width="3" height="6" rx="1.500" fill="#1f1f1f"/>
 <path d="M17 1l-6 10h4.500l-1.500 7 7-10h-5z" fill="#1f1f1f" stroke="#d6f5d6" stroke-width="1"/>
</svg>
<div class="abs" style="left:1780px;top:10px;width:110px;text-align:right;font-size:17.500px;line-height:24px;color:#262626;white-space:nowrap">8:19 PM<br><span style="letter-spacing:0.35px;margin-right:-0.35px">02/03/2026</span></div>
</div>

</div>
</body>
</html>
